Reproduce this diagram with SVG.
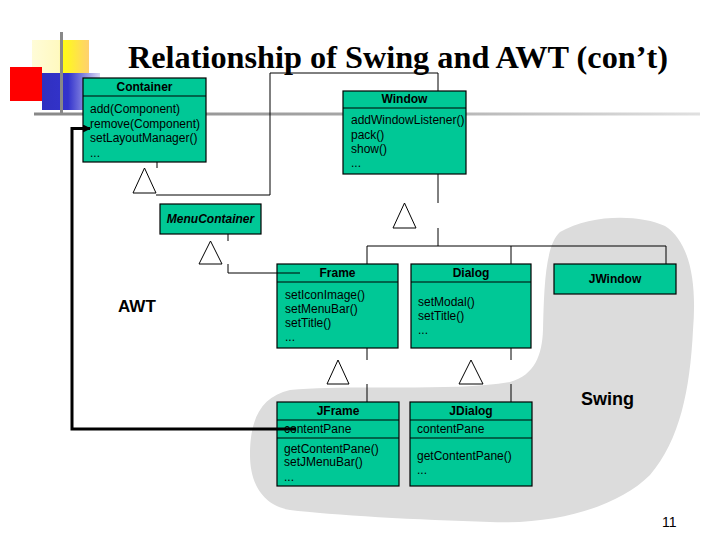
<svg xmlns="http://www.w3.org/2000/svg" width="720" height="540" viewBox="0 0 720 540">
<defs>
<linearGradient id="gy" x1="0" y1="0" x2="1" y2="0">
<stop offset="0" stop-color="#FFFCD8"/><stop offset="0.48" stop-color="#FFF9C0"/><stop offset="0.52" stop-color="#FFFF10"/><stop offset="1" stop-color="#FFD070"/>
</linearGradient>
<linearGradient id="gb" x1="0" y1="0" x2="1" y2="0">
<stop offset="0" stop-color="#3030C0"/><stop offset="0.45" stop-color="#3333CC"/><stop offset="1" stop-color="#D8D8F4"/>
</linearGradient>
<linearGradient id="gl" x1="0" y1="0" x2="1" y2="0">
<stop offset="0" stop-color="#888888"/><stop offset="0.5" stop-color="#A8A8A8"/><stop offset="1" stop-color="#E0E0E0"/>
</linearGradient>
<marker id="ah" markerWidth="8" markerHeight="8" refX="7" refY="4" orient="auto" markerUnits="userSpaceOnUse">
<path d="M0,0 L8,4 L0,8 Z" fill="#000"/>
</marker>
<style>
.box{fill:#00C896;stroke:#000;stroke-width:1.2}
.sep{stroke:#000;stroke-width:1.2}
.hd{font-family:"Liberation Sans",Arial,sans-serif;font-size:12px;font-weight:bold;text-anchor:middle;fill:#000}
.m{font-family:"Liberation Sans",Arial,sans-serif;font-size:12px;fill:#000}
.c{fill:none;stroke:#000;stroke-width:1}
.tri{fill:#fff;stroke:#000;stroke-width:1}
.big{font-family:"Liberation Sans",Arial,sans-serif;font-weight:bold;fill:#000}
</style>
</defs>
<rect x="0" y="0" width="720" height="540" fill="#fff"/>
<g id="decor">
<rect x="32" y="40" width="57" height="47" fill="url(#gy)"/>
<rect x="10" y="67" width="32" height="34" fill="#FF0000"/>
<rect x="42" y="73" width="58" height="37" fill="url(#gb)"/>
<rect x="60" y="32" width="3" height="82" fill="#888"/>
<rect x="34" y="112.5" width="666" height="3" fill="url(#gl)"/>
</g>
<text x="128" y="68" textLength="540" lengthAdjust="spacingAndGlyphs" style="font-family:'Liberation Serif','Times New Roman',serif;font-size:31px;font-weight:bold" fill="#000">Relationship of Swing and AWT (con’t)</text>
<path id="swing-region" d="M560,232 C590,214 640,214 665,226 C690,242 697,282 693,330 C690,390 680,440 650,475 C620,505 560,525 490,522 C420,520 330,515 290,510 C260,505 250,480 250,455 C250,420 260,397 290,390 C350,384 450,392 510,382 C535,375 542,355 543,330 C544,290 545,245 560,232 Z" fill="#DCDCDC"/>
<g id="connectors">
<line class="c" x1="157" y1="162" x2="157" y2="168"/>
<polyline class="c" points="156,195 270,195 270,73 438,73 438,91"/>
<polygon class="tri" points="133,193 156,193 144.5,168"/>
<line class="c" x1="438" y1="174" x2="438" y2="203"/>
<polyline class="c" points="438,228 438,246"/>
<polygon class="tri" points="393,228 416,228 404.5,203"/>
<polyline class="c" points="367,264 367,246 666,246 666,264"/>
<line class="c" x1="511" y1="246" x2="511" y2="264"/>
<line class="c" x1="228" y1="234" x2="228" y2="241"/>
<polygon class="tri" points="199,264 222,264 210.5,241"/>
<line class="c" x1="367" y1="348" x2="367" y2="360"/>
<line class="c" x1="367" y1="384" x2="367" y2="402"/>
<polygon class="tri" points="327,384 349,384 338,360"/>
<line class="c" x1="511" y1="348" x2="511" y2="360"/>
<line class="c" x1="511" y1="384" x2="511" y2="402"/>
<polygon class="tri" points="459,384 483,384 471,360"/>
<line class="c" x1="228" y1="264" x2="228" y2="273"/>
</g>
<g id="Container">
<rect class="box" x="83" y="78" width="123" height="84"/>
<line class="sep" x1="83" y1="96" x2="206" y2="96"/>
<text class="hd" x="144.5" y="91">Container</text>
<text class="m" x="90" y="113">add(Component)</text>
<text class="m" x="90" y="127.5">remove(Component)</text>
<text class="m" x="90" y="142">setLayoutManager()</text>
<text class="m" x="90" y="156.5">...</text>
</g>
<g id="Window">
<rect class="box" x="343" y="91" width="123" height="83"/>
<line class="sep" x1="343" y1="108" x2="466" y2="108"/>
<text class="hd" x="404.5" y="103">Window</text>
<text class="m" x="351" y="124">addWindowListener()</text>
<text class="m" x="351" y="138.5">pack()</text>
<text class="m" x="351" y="153">show()</text>
<text class="m" x="351" y="167">...</text>
</g>
<g id="MenuContainer">
<rect class="box" x="160" y="204" width="101" height="30"/>
<text class="hd" x="210.5" y="223" font-style="italic">MenuContainer</text>
</g>
<g id="Frame">
<rect class="box" x="277" y="264" width="121" height="84"/>
<line class="sep" x1="277" y1="282" x2="398" y2="282"/>
<text class="hd" x="337.5" y="277">Frame</text>
<text class="m" x="285" y="299">setIconImage()</text>
<text class="m" x="285" y="313">setMenuBar()</text>
<text class="m" x="285" y="327">setTitle()</text>
<text class="m" x="285" y="341">...</text>
</g>
<line class="c" x1="228" y1="273" x2="300" y2="273"/>
<g id="Dialog">
<rect class="box" x="411" y="264" width="120" height="84"/>
<line class="sep" x1="411" y1="282" x2="531" y2="282"/>
<text class="hd" x="471" y="277">Dialog</text>
<text class="m" x="418" y="306">setModal()</text>
<text class="m" x="418" y="320">setTitle()</text>
<text class="m" x="418" y="334">...</text>
</g>
<g id="JWindow">
<rect class="box" x="554" y="264" width="122" height="30"/>
<text class="hd" x="615" y="283">JWindow</text>
</g>
<g id="JFrame">
<rect class="box" x="277" y="402" width="122" height="84"/>
<line class="sep" x1="277" y1="420" x2="399" y2="420"/>
<line class="sep" x1="277" y1="438" x2="399" y2="438"/>
<text class="hd" x="338" y="415">JFrame</text>
<text class="m" x="284" y="433">contentPane</text>
<text class="m" x="284" y="453">getContentPane()</text>
<text class="m" x="284" y="466">setJMenuBar()</text>
<text class="m" x="284" y="481">...</text>
</g>
<g id="JDialog">
<rect class="box" x="410" y="402" width="122" height="84"/>
<line class="sep" x1="410" y1="420" x2="532" y2="420"/>
<line class="sep" x1="410" y1="438" x2="532" y2="438"/>
<text class="hd" x="471" y="415">JDialog</text>
<text class="m" x="417" y="433">contentPane</text>
<text class="m" x="417" y="460">getContentPane()</text>
<text class="m" x="417" y="474">...</text>
</g>
<g id="contentPane-link">
<polyline points="296,429 72,429 72,128.5 90,128.5" fill="none" stroke="#000" stroke-width="3" marker-end="url(#ah)"/>
</g>
<text class="big" x="118" y="312" font-size="17">AWT</text>
<text class="big" x="581" y="405" font-size="18">Swing</text>
<text x="662" y="527" style="font-family:'Liberation Sans',Arial,sans-serif;font-size:14px" fill="#000">11</text>
</svg>
